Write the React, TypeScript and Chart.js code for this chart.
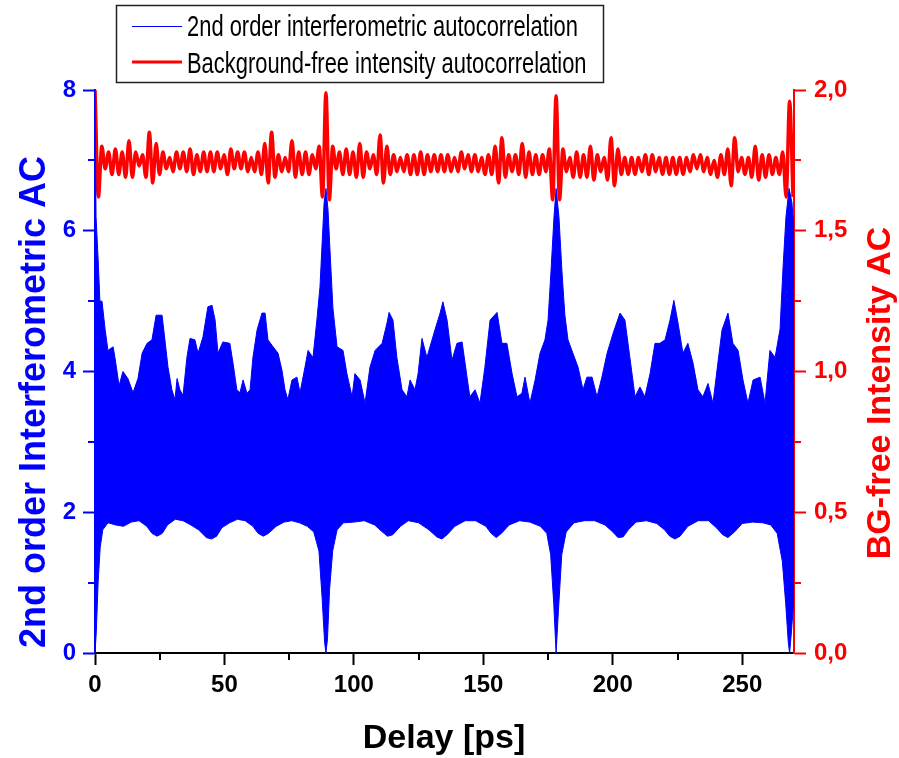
import React, { useEffect, useRef } from "react";
import { Chart, registerables } from "chart.js";

Chart.register(...registerables);

// ---------- data ----------
const xTicks = [0, 50, 100, 150, 200, 250];
const xMinorTicks = [25, 75, 125, 175, 225];
const leftTicks = [0, 2, 4, 6, 8];
const leftMinorTicks = [1, 3, 5, 7];
const rightTicks = [0, 0.5, 1, 1.5, 2];
const rightMinorTicks = [0.25, 0.75, 1.25, 1.75];

const seriesLabels = [
  "2nd order interferometric autocorrelation",
  "Background-free intensity autocorrelation",
];

// upper envelope of the interferometric fringes
const blueUpperX = [
  0, 0.4, 1.2, 1.9, 2.7, 3.9, 5.0, 7.0, 7.7, 9.3,
  10.8, 12.7, 14.7, 16.6, 18.2, 20.1, 22.0, 23.6, 25.9, 27.0,
  28.2, 29.7, 30.9, 31.7, 32.8, 34.0, 35.5, 36.7, 38.6, 39.8,
  41.7, 43.6, 45.2, 46.4, 47.5, 49.4, 52.1, 53.3, 54.8, 56.0,
  57.2, 58.7, 59.9, 61.0, 62.6, 64.5, 65.7, 66.8, 68.8, 70.7,
  72.2, 73.4, 74.5, 76.1, 78.0, 79.2, 81.1, 82.3, 84.2, 85.7,
  86.9, 87.7, 88.5, 89.2, 90.0, 90.8, 91.9, 93.5, 95.8, 97.3,
  99.3, 100.4, 102.4, 104.3, 106.2, 108.2, 110.9, 112.8, 113.6, 115.1,
  116.6, 118.6, 120.5, 121.7, 123.6, 124.8, 126.3, 128.2, 129.4, 131.3,
  133.3, 134.4, 136.0, 137.9, 139.8, 141.8, 143.7, 144.8, 146.8, 148.7,
  150.6, 152.6, 155.3, 157.2, 159.1, 161.1, 163.0, 164.9, 166.1, 168.0,
  170.0, 171.9, 173.8, 175.0, 176.1, 177.3, 178.1, 179.2, 180.4, 181.5,
  182.7, 184.6, 186.6, 188.5, 190.0, 192.0, 193.9, 195.8, 197.8, 200.1,
  202.8, 204.7, 206.6, 208.6, 210.5, 212.4, 214.4, 216.3, 218.2, 220.2,
  222.1, 223.6, 225.2, 227.1, 229.0, 231.0, 232.9, 234.8, 236.8, 238.7,
  240.6, 242.2, 244.5, 246.4, 248.4, 250.3, 252.2, 254.2, 256.9, 258.8,
  260.7, 262.7, 264.6, 265.8, 266.9, 268.1, 269.2, 270,
];
const blueUpperY = [
  8.0, 6.2, 5.6, 5.0, 5.0, 4.6, 4.3, 4.35, 4.2, 3.8,
  4.0, 3.9, 3.7, 3.9, 4.26, 4.4, 4.45, 4.8, 4.8, 4.45,
  4.06, 3.74, 3.6, 3.9, 3.74, 3.66, 4.2, 4.47, 4.45, 4.26,
  4.49, 4.92, 4.94, 4.73, 4.26, 4.42, 4.4, 4.12, 3.74, 3.7,
  3.88, 3.69, 3.74, 4.2, 4.59, 4.83, 4.83, 4.45, 4.35, 4.26,
  4.02, 3.74, 3.6, 3.88, 3.92, 3.7, 4.06, 4.3, 4.2, 4.73,
  5.2, 5.8, 6.4, 6.6, 6.3, 5.7, 4.9, 4.35, 4.3, 3.97,
  3.64, 3.97, 3.88, 3.55, 4.06, 4.3, 4.4, 4.69, 4.84, 4.73,
  4.2, 3.74, 3.64, 3.88, 3.74, 3.97, 4.47, 4.2, 4.35, 4.59,
  4.83, 4.99, 4.73, 4.16, 4.4, 4.42, 3.92, 3.64, 3.74, 3.55,
  4.06, 4.73, 4.84, 4.4, 4.4, 3.97, 3.64, 3.69, 3.92, 3.55,
  3.88, 4.26, 4.45, 4.73, 5.4, 6.2, 6.6, 6.2, 5.4, 4.8,
  4.45, 4.26, 4.06, 3.74, 3.92, 3.92, 3.64, 3.92, 4.26, 4.54,
  4.83, 4.73, 4.2, 3.64, 3.78, 3.64, 3.97, 4.4, 4.4, 4.45,
  4.73, 5.01, 4.69, 4.26, 4.4, 4.12, 3.74, 3.64, 3.83, 3.55,
  4.12, 4.59, 4.83, 4.4, 4.3, 3.88, 3.55, 3.88, 3.92, 3.55,
  4.3, 4.2, 4.6, 5.5, 6.2, 6.6, 6.4, 6.0,
];

// lower envelope of the interferometric fringes
const blueLowerX = [
  0, 0.5, 1.2, 2.0, 3.0, 5, 8, 11, 14, 17,
  20, 22, 24, 26, 28, 31, 34, 37, 40, 43,
  45, 47, 49, 52, 55, 58, 61, 63, 65, 67,
  70, 73, 76, 79, 82, 84.5, 86.5, 87.7, 88.7, 89.2,
  89.8, 90.6, 91.8, 93.5, 96, 100, 104, 108, 111, 113,
  115, 118, 121, 125, 129, 132, 134, 136, 139, 143,
  147, 151, 153, 155, 157, 160, 164, 168, 172, 174.5,
  176, 177.2, 178.1, 179, 180.3, 182, 185, 189, 193, 197,
  200, 202, 204, 206, 209, 213, 217, 220, 222, 224,
  226, 229, 233, 237, 240, 242.5, 244.5, 247, 250, 254,
  258, 261, 263.5, 265.5, 266.8, 267.8, 268.3, 269, 270,
];
const blueLowerY = [
  0, 0.3, 1.0, 1.5, 1.75, 1.85, 1.82, 1.8, 1.86, 1.88,
  1.8, 1.7, 1.66, 1.7, 1.82, 1.9, 1.88, 1.82, 1.75, 1.64,
  1.62, 1.66, 1.78, 1.85, 1.9, 1.88, 1.8, 1.7, 1.66, 1.7,
  1.8, 1.86, 1.88, 1.85, 1.8, 1.72, 1.45, 0.8, 0.15, 0,
  0.2, 0.9, 1.45, 1.75, 1.85, 1.86, 1.88, 1.82, 1.72, 1.66,
  1.68, 1.8, 1.88, 1.85, 1.75, 1.65, 1.62, 1.68, 1.8, 1.88,
  1.88, 1.8, 1.7, 1.64, 1.7, 1.82, 1.88, 1.86, 1.8, 1.7,
  1.4, 0.7, 0, 0.6, 1.4, 1.72, 1.85, 1.88, 1.88, 1.82,
  1.72, 1.64, 1.65, 1.75, 1.86, 1.88, 1.84, 1.75, 1.66, 1.62,
  1.66, 1.8, 1.88, 1.88, 1.78, 1.68, 1.64, 1.72, 1.84, 1.86,
  1.85, 1.82, 1.7, 1.3, 0.7, 0.15, 0, 0.3, 0.8,
];

// main peaks of the intensity autocorrelation (ps)
const redPeakX = [0, 89.2, 178.1, 268.3];
// successive maxima / minima between the main peaks (68 half-periods per segment)
const redSeg1 = [
  2.00, 1.62, 1.80, 1.72, 1.78, 1.70, 1.79, 1.70, 1.78, 1.69,
  1.82, 1.69, 1.78, 1.73, 1.77, 1.69, 1.85, 1.67, 1.81, 1.70,
  1.78, 1.72, 1.76, 1.71, 1.78, 1.72, 1.78, 1.71, 1.79, 1.70,
  1.77, 1.71, 1.78, 1.71, 1.78, 1.71, 1.78, 1.72, 1.77, 1.70,
  1.79, 1.72, 1.78, 1.72, 1.78, 1.71, 1.76, 1.71, 1.78, 1.70,
  1.81, 1.67, 1.85, 1.69, 1.77, 1.71, 1.76, 1.71, 1.82, 1.69,
  1.78, 1.70, 1.78, 1.70, 1.77, 1.72, 1.80, 1.62,
];
const redSeg2 = [
  1.99, 1.61, 1.80, 1.72, 1.78, 1.70, 1.79, 1.70, 1.78, 1.69,
  1.81, 1.69, 1.78, 1.72, 1.77, 1.70, 1.84, 1.67, 1.80, 1.70,
  1.77, 1.71, 1.76, 1.71, 1.77, 1.70, 1.77, 1.70, 1.78, 1.70,
  1.77, 1.71, 1.77, 1.71, 1.77, 1.71, 1.77, 1.71, 1.76, 1.71,
  1.78, 1.72, 1.77, 1.71, 1.77, 1.71, 1.76, 1.70, 1.77, 1.70,
  1.80, 1.67, 1.83, 1.69, 1.77, 1.71, 1.77, 1.70, 1.81, 1.69,
  1.78, 1.70, 1.77, 1.70, 1.77, 1.71, 1.79, 1.61,
];
const redSeg3 = [
  1.98, 1.61, 1.79, 1.71, 1.76, 1.69, 1.78, 1.69, 1.77, 1.69,
  1.80, 1.68, 1.77, 1.71, 1.76, 1.68, 1.83, 1.66, 1.79, 1.70,
  1.76, 1.70, 1.76, 1.70, 1.76, 1.71, 1.77, 1.70, 1.77, 1.71,
  1.76, 1.70, 1.76, 1.70, 1.76, 1.70, 1.76, 1.70, 1.76, 1.71,
  1.77, 1.72, 1.77, 1.71, 1.76, 1.70, 1.75, 1.69, 1.77, 1.70,
  1.79, 1.66, 1.83, 1.71, 1.76, 1.70, 1.76, 1.69, 1.80, 1.68,
  1.77, 1.69, 1.77, 1.70, 1.76, 1.70, 1.78, 1.62, 1.96, 1.62,
];

// ---------- helpers ----------
const BLUE = "#0000ff";
const RED = "#ff0000";
const FONT = '"Liberation Sans", Arial, Helvetica, sans-serif';

const zip = (xs: number[], ys: number[]) => xs.map((x, i) => ({ x, y: ys[i] }));

function buildRed() {
  const segs = [redSeg1, redSeg2, redSeg3];
  const pts: { x: number; y: number }[] = [];
  segs.forEach((seg, k) => {
    const x0 = redPeakX[k];
    const step = (redPeakX[k + 1] - x0) / 68;
    seg.forEach((v, i) => pts.push({ x: x0 + i * step, y: v }));
  });
  return pts;
}

const decorPlugin = {
  id: "decor",
  afterDraw(chart: any) {
    const ctx: CanvasRenderingContext2D = chart.ctx;
    const xs = chart.scales.x;
    const yl = chart.scales.y;
    const yr = chart.scales.y1;
    const area = chart.chartArea;
    ctx.save();
    // minor ticks
    ctx.lineWidth = 2;
    ctx.strokeStyle = "#000";
    xMinorTicks.forEach((v) => {
      const p = Math.round(xs.getPixelForValue(v));
      ctx.beginPath();
      ctx.moveTo(p, area.bottom);
      ctx.lineTo(p, area.bottom + 7);
      ctx.stroke();
    });
    ctx.strokeStyle = BLUE;
    leftMinorTicks.forEach((v) => {
      const p = Math.round(yl.getPixelForValue(v));
      ctx.beginPath();
      ctx.moveTo(area.left - 7, p);
      ctx.lineTo(area.left, p);
      ctx.stroke();
    });
    ctx.strokeStyle = RED;
    rightMinorTicks.forEach((v) => {
      const p = Math.round(yr.getPixelForValue(v));
      ctx.beginPath();
      ctx.moveTo(area.right, p);
      ctx.lineTo(area.right + 7, p);
      ctx.stroke();
    });

    // axis titles
    ctx.textAlign = "center";
    ctx.textBaseline = "alphabetic";
    ctx.font = `bold 34px ${FONT}`;
    ctx.fillStyle = "#000";
    ctx.fillText("Delay [ps]", 444, 748);

    ctx.save();
    ctx.font = `bold 36px ${FONT}`;
    ctx.translate(45, 402);
    ctx.rotate(-Math.PI / 2);
    ctx.fillStyle = BLUE;
    ctx.fillText("2nd order Interferometric AC", 0, 0);
    ctx.restore();

    ctx.save();
    ctx.translate(890, 393);
    ctx.rotate(-Math.PI / 2);
    ctx.fillStyle = RED;
    ctx.fillText("BG-free Intensity AC", 0, 0);
    ctx.restore();

    // legend box
    ctx.lineWidth = 1.5;
    ctx.strokeStyle = "#222";
    ctx.strokeRect(116.5, 5.5, 487, 77);
    ctx.strokeStyle = BLUE;
    ctx.lineWidth = 1;
    ctx.beginPath();
    ctx.moveTo(132, 26.5);
    ctx.lineTo(182, 26.5);
    ctx.stroke();
    ctx.strokeStyle = RED;
    ctx.lineWidth = 3;
    ctx.beginPath();
    ctx.moveTo(132, 62);
    ctx.lineTo(182, 62);
    ctx.stroke();

    ctx.font = `29px ${FONT}`;
    ctx.fillStyle = "#000";
    ctx.textAlign = "left";
    const w = ctx.measureText(seriesLabels[0]).width;
    const sx = 391 / w;
    [36, 73].forEach((base, i) => {
      ctx.save();
      ctx.translate(187, base);
      ctx.scale(sx, 1);
      ctx.fillText(seriesLabels[i], 0, 0);
      ctx.restore();
    });
    ctx.restore();
  },
};

const tickFont = { family: FONT, size: 24, weight: "bold" as const };

export default function App() {
  const ref = useRef<HTMLCanvasElement>(null);
  useEffect(() => {
    const chart = new Chart(ref.current as HTMLCanvasElement, {
      type: "line",
      data: {
        datasets: [
          {
            label: seriesLabels[0],
            data: zip(blueUpperX, blueUpperY),
            borderColor: BLUE,
            backgroundColor: BLUE,
            borderWidth: 1,
            pointRadius: 0,
            tension: 0,
            yAxisID: "y",
            order: 0,
          },
          {
            label: "lower",
            data: zip(blueLowerX, blueLowerY),
            borderColor: BLUE,
            backgroundColor: BLUE,
            borderWidth: 1,
            pointRadius: 0,
            tension: 0,
            fill: "-1",
            yAxisID: "y",
            order: 1,
          },
          {
            label: seriesLabels[1],
            data: buildRed(),
            borderColor: RED,
            backgroundColor: RED,
            borderWidth: 3.5,
            pointRadius: 0,
            cubicInterpolationMode: "monotone",
            yAxisID: "y1",
            order: 10,
          },
        ],
      },
      options: {
        responsive: false,
        animation: false,
        events: [],
        layout: { padding: { top: 90, left: 0, right: 0, bottom: 0 } },
        plugins: { legend: { display: false }, tooltip: { enabled: false } },
        scales: {
          x: {
            type: "linear",
            min: 0,
            max: 270,
            afterBuildTicks: (s: any) => {
              s.ticks = xTicks.map((v) => ({ value: v }));
            },
            afterFit: (s: any) => {
              s.height = 105;
            },
            ticks: { font: tickFont, color: "#000", padding: 6, autoSkip: false, maxRotation: 0 },
            grid: { drawOnChartArea: false, tickLength: 12, tickColor: "#000", tickWidth: 2 },
            border: { color: "#000", width: 2 },
          },
          y: {
            type: "linear",
            position: "left",
            min: 0,
            max: 8,
            afterBuildTicks: (s: any) => {
              s.ticks = leftTicks.map((v) => ({ value: v }));
            },
            afterFit: (s: any) => {
              s.width = 95;
            },
            ticks: { font: tickFont, color: BLUE, padding: 7, autoSkip: false },
            grid: { drawOnChartArea: false, tickLength: 12, tickColor: BLUE, tickWidth: 2 },
            border: { color: BLUE, width: 2 },
          },
          y1: {
            type: "linear",
            position: "right",
            min: 0,
            max: 2,
            afterBuildTicks: (s: any) => {
              s.ticks = rightTicks.map((v) => ({ value: v }));
            },
            afterFit: (s: any) => {
              s.width = 105;
            },
            ticks: {
              font: tickFont,
              color: RED,
              padding: 8,
              autoSkip: false,
              callback: (v: any) => Number(v).toFixed(1).replace(".", ","),
            },
            grid: { drawOnChartArea: false, tickLength: 12, tickColor: RED, tickWidth: 2 },
            border: { color: RED, width: 2 },
          },
        },
      },
      plugins: [decorPlugin],
    } as any);
    return () => chart.destroy();
  }, []);
  return (
    <div style={{ position: "absolute", left: 0, top: 0, width: 899, height: 758, background: "#fff" }}>
      <canvas ref={ref} width={899} height={758} />
    </div>
  );
}
